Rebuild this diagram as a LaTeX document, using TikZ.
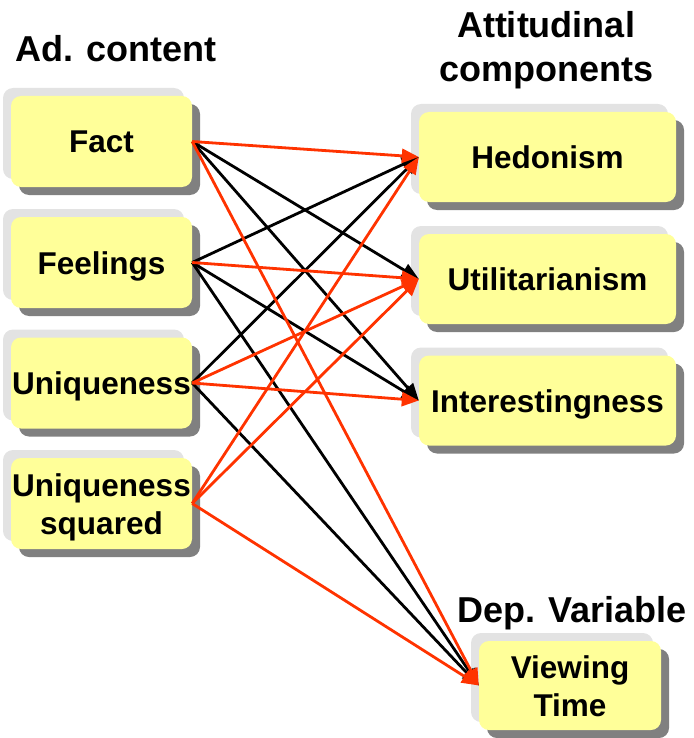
\documentclass[tikz,border=0pt]{standalone}
\usepackage{fontspec}
\setmainfont{Liberation Sans}
\usetikzlibrary{arrows.meta,shadows}
\definecolor{boxyellow}{HTML}{FFFF99}
\definecolor{shadowlight}{HTML}{E3E3E3}
\definecolor{shadowdark}{HTML}{808080}
\definecolor{arrred}{HTML}{FF3300}
\tikzset{
  cbox/.style={fill=boxyellow, draw=none, rounded corners=10pt, inner sep=0pt, align=center,
    font=\fontsize{31.5}{38}\selectfont\bfseries, text height=23pt, text depth=0pt,
    general shadow={shadow xshift=-8pt, shadow yshift=8pt, fill=shadowlight, draw=none},
    general shadow={shadow xshift=8pt, shadow yshift=-8pt, fill=shadowdark, draw=none}},
  twoline/.style={text height=61pt, text depth=0pt},
  leftbox/.style={cbox, minimum width=181pt, minimum height=91pt},
  rightbox/.style={cbox, minimum width=257pt, minimum height=90pt},
  vtbox/.style={cbox, minimum width=182pt, minimum height=89pt},
  title/.style={anchor=base, inner sep=0pt, font=\fontsize{36}{44}\selectfont\bfseries},
  conn/.style={line width=2.8pt, -{Triangle[length=17pt,width=14pt]}},
  blk/.style={conn, draw=black},
  rd/.style={conn, draw=arrred}
}
\begin{document}
\begin{tikzpicture}[x=1pt,y=-1pt]
\useasboundingbox (0,0) rectangle (693,738);
% titles
\node[title] (tad) at (116,62) {Ad. content};
\node[title] (tatt1) at (546,38) {Attitudinal};
\node[title] (tatt2) at (546,82) {components};
\node[title] (tdep) at (572,622) {Dep. Variable};
% left boxes
\node[leftbox] (fact) at (101.5,141.5) {Fact};
\node[leftbox] (feel) at (101.5,262.5) {Feelings};
\node[leftbox] (uniq) at (101.5,383) {Uniqueness};
\node[leftbox, twoline] (uniqsq) at (101.5,503.5) {Uniqueness\\squared};
% right boxes
\node[rightbox] (hed) at (547.5,157) {Hedonism};
\node[rightbox] (util) at (547.5,279) {Utilitarianism};
\node[rightbox] (inter) at (547.5,400.5) {Interestingness};
\node[vtbox, twoline] (vt) at (570,685.5) {Viewing\\Time};
% connectors: black
\draw[blk] (fact.east) -- (util.west);
\draw[blk] (fact.east) -- (inter.west);
\draw[blk] (feel.east) -- (hed.west);
\draw[blk] (feel.east) -- (inter.west);
\draw[blk] (feel.east) -- (vt.west);
\draw[blk] (uniq.east) -- (hed.west);
\draw[blk] (uniq.east) -- (vt.west);
% connectors: red
\draw[rd] (fact.east) -- (hed.west);
\draw[rd] (fact.east) -- (vt.west);
\draw[rd] (feel.east) -- (util.west);
\draw[rd] (uniq.east) -- (util.west);
\draw[rd] (uniq.east) -- (inter.west);
\draw[rd] (uniqsq.east) -- (hed.west);
\draw[rd] (uniqsq.east) -- (util.west);
\draw[rd] (uniqsq.east) -- (vt.west);
\end{tikzpicture}
\end{document}
